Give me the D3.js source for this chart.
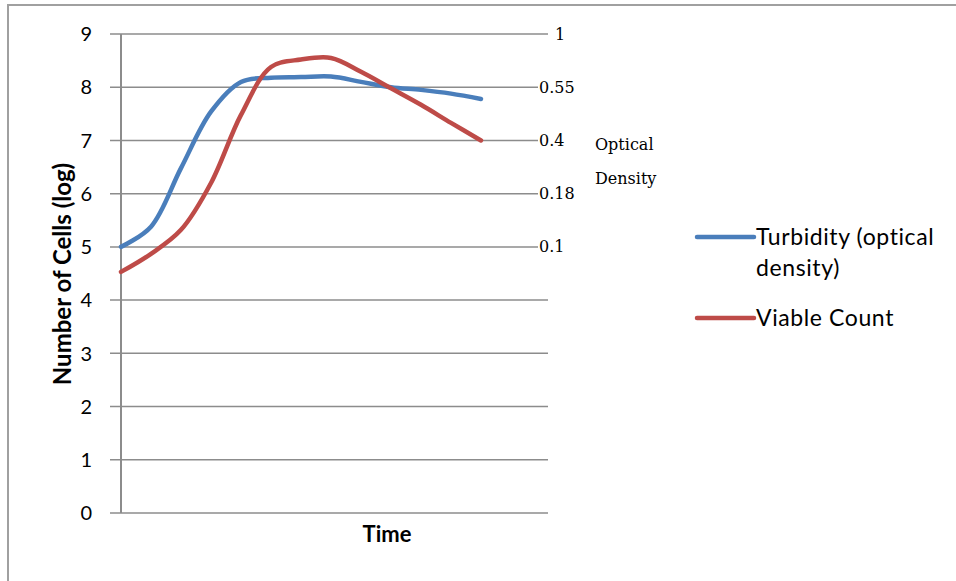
<!DOCTYPE html>
<html>
<head>
<meta charset="UTF-8">
<title>Growth curve</title>
<script src="https://d3js.org/d3.v7.min.js"></script>
<style>
  body { margin: 0; background: #fff; }
  text { font-family: Lato, "Open Sans", sans-serif; fill: #000; }
  .serif { font-family: "DejaVu Serif", "Liberation Serif", serif; }
</style>
</head>
<body>
<script>
// sample times (category positions along the x axis)
var timePoints = [0, 1, 2, 3, 4, 5, 6, 7, 8, 9, 10, 11, 12];
// log number of cells
var turbidity = [5.0, 5.38, 6.48, 7.54, 8.10, 8.18, 8.19, 8.20, 8.10, 8.00, 7.95, 7.88, 7.78];
var viable = [4.53, 4.87, 5.32, 6.2, 7.48, 8.38, 8.52, 8.55, 8.29, 7.98, 7.67, 7.33, 7.0];
var leftTicks = [0, 1, 2, 3, 4, 5, 6, 7, 8, 9];
// optical density labels on the right, next to the grid lines at 9..5
var odLabels = ["1", "0.55", "0.4", "0.18", "0.1"];
var odAt = [9, 8, 7, 6, 5];

var w = 956, h = 581;
var svg = d3.select("body").append("svg")
    .attr("width", w)
    .attr("height", h);

// outer chart border
svg.append("rect")
    .attr("x", 8).attr("y", 5)
    .attr("width", 1000).attr("height", 1000)
    .attr("fill", "none")
    .attr("stroke", "#a0a0a0")
    .attr("stroke-width", 2);

var x = d3.scaleLinear().domain([0, 12]).range([121, 481]);
var y = d3.scaleLinear().domain([0, 9]).range([513, 34]);

// grid lines
svg.selectAll(".grid")
    .data(leftTicks)
    .enter().append("line")
    .attr("class", "grid")
    .attr("x1", 110).attr("x2", 548)
    .attr("y1", function(d) { return y(d); })
    .attr("y2", function(d) { return y(d); })
    .attr("stroke", "#8c8c8c")
    .attr("stroke-width", 1.5);

// left axis line
svg.append("line")
    .attr("x1", x(0)).attr("x2", x(0))
    .attr("y1", y(9)).attr("y2", y(0))
    .attr("stroke", "#8c8c8c")
    .attr("stroke-width", 2);

svg.selectAll(".ytick")
    .data(leftTicks)
    .enter().append("text")
    .attr("class", "ytick")
    .attr("x", 92)
    .attr("y", function(d) { return y(d); })
    .attr("dy", "0.36em")
    .attr("text-anchor", "end")
    .style("font-size", "20px")
    .text(function(d) { return d; });

// right side labels (optical density)
var od = svg.selectAll(".od")
    .data(odLabels)
    .enter().append("g")
    .attr("class", "od")
    .attr("transform", function(d, i) { return "translate(538," + y(odAt[i]) + ")"; });
od.append("rect")
    .attr("x", 0).attr("y", -10)
    .attr("width", function(d) { return d == "1" ? 0 : d.length * 10 + 2; })
    .attr("height", 20)
    .attr("fill", "#fff");
od.append("text")
    .attr("class", "serif")
    .attr("x", function(d) { return d == "1" ? 17 : 1; })
    .attr("dy", "0.35em")
    .style("font-size", "16px")
    .text(function(d) { return d; });

svg.append("text").attr("class", "serif")
    .attr("x", 595).attr("y", 150)
    .style("font-size", "16px")
    .text("Optical");
svg.append("text").attr("class", "serif")
    .attr("x", 595).attr("y", 184)
    .style("font-size", "16px")
    .text("Density");

// series
var line = d3.line()
    .x(function(d, i) { return x(timePoints[i]); })
    .y(function(d) { return y(d); })
    .curve(d3.curveCatmullRom.alpha(0.5));

svg.append("path")
    .datum(turbidity)
    .attr("d", line)
    .attr("fill", "none")
    .attr("stroke", "#4a7ebb")
    .attr("stroke-width", 4.5)
    .attr("stroke-linecap", "round");

svg.append("path")
    .datum(viable)
    .attr("d", line)
    .attr("fill", "none")
    .attr("stroke", "#be4b48")
    .attr("stroke-width", 4.5)
    .attr("stroke-linecap", "round");

// axis titles
svg.append("text")
    .attr("transform", "translate(71,274) rotate(-90)")
    .attr("text-anchor", "middle")
    .style("font-size", "24px")
    .style("font-weight", "bold")
    .text("Number of Cells (log)");

svg.append("text")
    .attr("x", 387).attr("y", 542)
    .attr("text-anchor", "middle")
    .style("font-size", "22px")
    .style("font-weight", "bold")
    .text("Time");

// legend
var legend = [
    { name: ["Turbidity (optical", "density)"], color: "#4a7ebb", y: 237 },
    { name: ["Viable Count"], color: "#be4b48", y: 318 }
];
var lg = svg.selectAll(".legend")
    .data(legend)
    .enter().append("g")
    .attr("class", "legend")
    .attr("transform", function(d) { return "translate(697," + d.y + ")"; });
lg.append("line")
    .attr("x1", 0).attr("x2", 57)
    .attr("stroke", function(d) { return d.color; })
    .attr("stroke-width", 4.5)
    .attr("stroke-linecap", "round");
lg.each(function(d) {
    var t = d3.select(this).append("text")
        .attr("x", 59)
        .attr("y", 8)
        .style("font-size", "23px")
        .style("letter-spacing", "0.6px");
    d.name.forEach(function(s, i) {
        t.append("tspan").attr("x", 59).attr("dy", i == 0 ? 0 : 31).text(s);
    });
});
</script>
</body>
</html>
